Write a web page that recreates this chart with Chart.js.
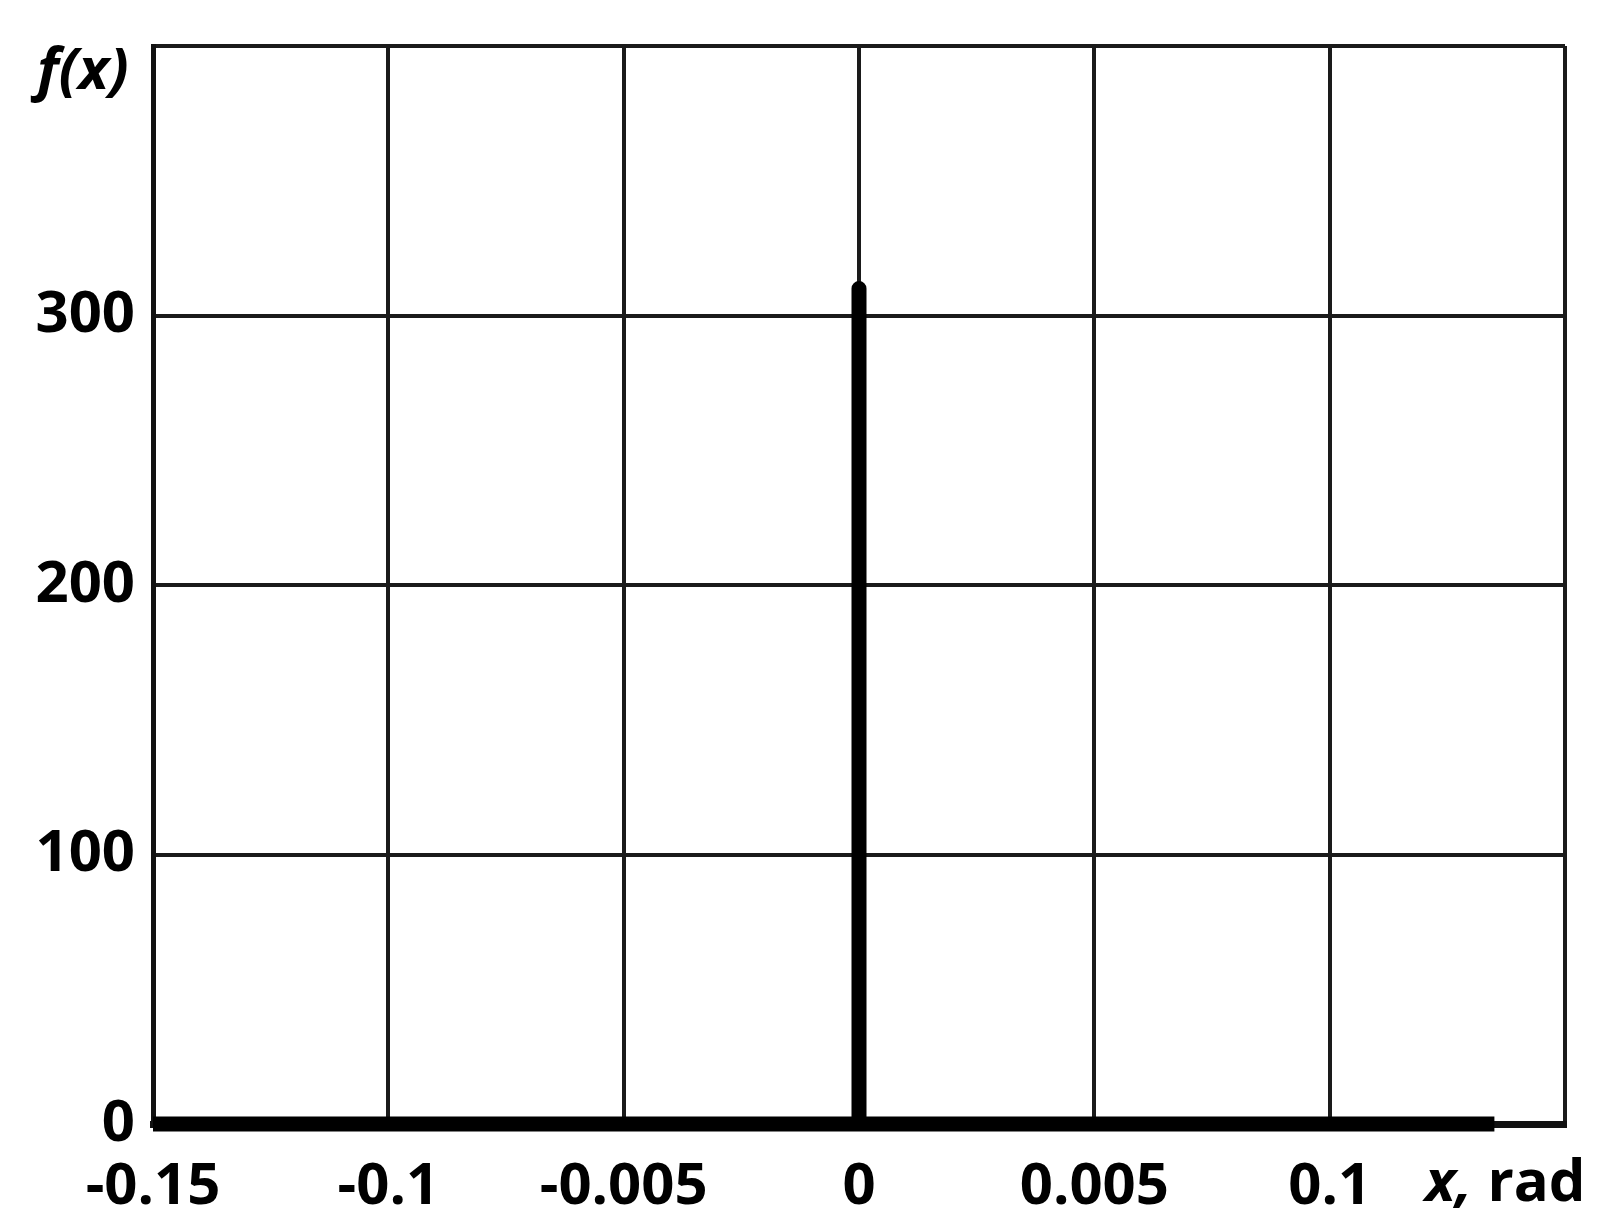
<!DOCTYPE html>
<html>
<head>
<meta charset="utf-8">
<script src="https://cdn.jsdelivr.net/npm/chart.js@4.4.0/dist/chart.umd.min.js"></script>
<style>
  html, body { margin: 0; padding: 0; background: #fff; }
  #wrap { width: 1605px; height: 1231px; }
</style>
</head>
<body>
<div id="wrap"><canvas id="fx-chart"></canvas></div>
<script>
// values
const xValues = [-0.15, 0, 0, 0, 0.135];
const yValues = [0, 0, 310, 0, 0];

// tick labels as printed on the figure (last tick is unlabeled)
const xTickLabels = ['-0.15', '-0.1', '-0.005', '0', '0.005', '0.1', ''];
const yTickLabels = ['0', '100', '200', '300', ''];
const yTitle = 'f(x)';
const xTitleVar = 'x,';
const xTitleUnit = ' rad';

const FONT = '"Open Sans", "DejaVu Sans", sans-serif';

// f(x) and "x, rad" sit beside the axes, not where chart.js puts titles
const axisText = {
    id: 'axisText',
    afterDraw(chart) {
        const { ctx, chartArea } = chart;
        ctx.save();
        ctx.fillStyle = '#000';
        ctx.textBaseline = 'middle';
        ctx.textAlign = 'left';
        ctx.font = 'italic bold 58px ' + FONT;
        ctx.fillText(yTitle, chartArea.left - 116, chartArea.top + 26);

        const y = chartArea.bottom + 60;
        let x = chartArea.right - 140;
        ctx.font = 'italic bold 58px ' + FONT;
        ctx.fillText(xTitleVar, x, y);
        x += ctx.measureText(xTitleVar).width;
        ctx.font = 'bold 58px ' + FONT;
        ctx.fillText(xTitleUnit, x, y);
        ctx.restore();
    }
};

const ctx = document.getElementById('fx-chart');

new Chart(ctx, {
    type: 'line',
    data: {
        datasets: [{
            data: xValues.map((x, i) => ({ x: x, y: yValues[i] })),
            borderColor: '#000',
            borderWidth: 15,
            borderJoinStyle: 'round',
            borderCapStyle: 'butt',
            pointRadius: 0,
            tension: 0,
            fill: false,
            clip: false
        }]
    },
    options: {
        responsive: true,
        maintainAspectRatio: false,
        animation: false,
        layout: { padding: { top: 46, right: 40, left: 0, bottom: 0 } },
        plugins: {
            legend: { display: false },
            tooltip: { enabled: false }
        },
        scales: {
            x: {
                type: 'linear',
                min: -0.15,
                max: 0.15,
                afterBuildTicks: (scale) => {
                    scale.ticks = xTickLabels.map((_, i) => ({ value: -0.15 + i * 0.05 }));
                },
                ticks: {
                    color: '#000',
                    font: { family: FONT, size: 58, weight: 'bold' },
                    padding: 29,
                    maxRotation: 0,
                    autoSkip: false,
                    callback: (v, i) => xTickLabels[i]
                },
                grid: { color: '#1a1a1a', lineWidth: 4, drawTicks: false },
                border: { color: '#111', width: 7 },
                afterFit: (scale) => {
                    scale.height = 1231 - 1124;
                    scale.paddingLeft = 0;
                    scale.paddingRight = 0;
                }
            },
            y: {
                min: 0,
                max: 400,
                afterBuildTicks: (scale) => {
                    scale.ticks = yTickLabels.map((_, i) => ({ value: i * 100 }));
                },
                ticks: {
                    color: '#000',
                    font: { family: FONT, size: 58, weight: 'bold' },
                    padding: 18,
                    autoSkip: false,
                    callback: (v, i) => yTickLabels[i]
                },
                grid: { color: '#1a1a1a', lineWidth: 4, drawTicks: false },
                border: { color: '#111', width: 5 },
                afterFit: (scale) => {
                    scale.width = 153;
                    scale.paddingTop = 0;
                    scale.paddingBottom = 0;
                }
            }
        }
    },
    plugins: [axisText]
});
</script>
</body>
</html>
